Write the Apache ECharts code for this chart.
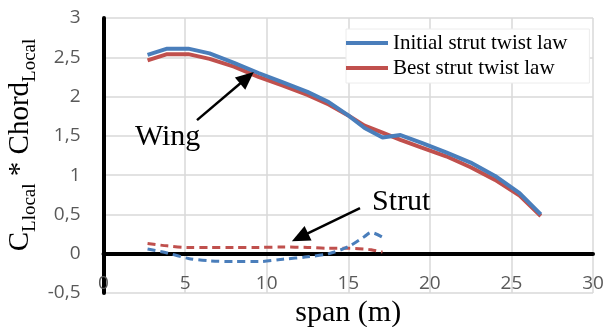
<!DOCTYPE html>
<html>
<head>
<meta charset="utf-8">
<script src="https://cdn.jsdelivr.net/npm/echarts@6/dist/echarts.min.js"></script>
<style>html,body{margin:0;padding:0;background:#fff}#c{width:614px;height:327px}</style>
</head>
<body>
<div id="c"></div>
<script>
// ---- data ----
const wingSpan = [2.7, 3.9, 5.2, 6.5, 8, 9.5, 11, 12.5, 13.8, 15, 16, 17.1, 18.2, 19.5, 21, 22.5, 24, 25.5, 26.8];
const wingInitial = [2.53, 2.61, 2.61, 2.55, 2.43, 2.30, 2.18, 2.06, 1.93, 1.76, 1.60, 1.48, 1.51, 1.41, 1.29, 1.16, 0.99, 0.77, 0.50];
const wingBest    = [2.46, 2.54, 2.54, 2.48, 2.38, 2.25, 2.14, 2.02, 1.90, 1.76, 1.63, 1.54, 1.45, 1.35, 1.24, 1.10, 0.94, 0.74, 0.48];
const strutSpan = [2.7, 3.9, 5.2, 6.5, 8, 9.5, 11, 12.5, 13.8, 15, 16, 16.4, 17.1];
const strutInitial = [0.06, 0.01, -0.06, -0.09, -0.10, -0.10, -0.07, -0.04, 0.00, 0.09, 0.22, 0.27, 0.21];
const strutBest    = [0.13, 0.10, 0.08, 0.08, 0.08, 0.08, 0.085, 0.08, 0.07, 0.07, 0.06, 0.05, 0.02];
const seriesNames = ['Initial strut twist law', 'Best strut twist law'];
const xTicks = { min: 0, max: 30, interval: 5 };
const yTicks = { min: -0.5, max: 3, interval: 0.5 };
const annotations = [
  { text: 'Wing', at: [3.93, 1.49], arrowFrom: [5.73, 1.70], arrowTo: [8.79, 2.24] },
  { text: 'Strut', at: [18.25, 0.66], arrowFrom: [15.72, 0.58], arrowTo: [12.04, 0.21] }
];

const blue = '#4a7ebb';
const red = '#c0504d';
const serif = '"Liberation Serif", "Times New Roman", serif';
const zip = (xs, ys) => xs.map((x, i) => [x, ys[i]]);

const chart = echarts.init(document.getElementById('c'), null, { renderer: 'canvas' });
chart.setOption({
  animation: false,
  grid: { left: 103.5, right: 21, top: 18, bottom: 34, containLabel: false, outerBoundsMode: 'none' },
  xAxis: {
    type: 'value', min: xTicks.min, max: xTicks.max, interval: xTicks.interval,
    axisLine: { show: true, onZero: true, lineStyle: { color: '#000', width: 4 } },
    axisTick: { show: false },
    axisLabel: { margin: -19, color: '#595959', fontSize: 19, fontFamily: '"Open Sans", sans-serif' },
    splitLine: { show: true, lineStyle: { color: '#d9d9d9', width: 1.5 } },
    name: 'span (m)', nameLocation: 'middle', nameGap: -3,
    nameTextStyle: { color: '#000', fontSize: 30, fontFamily: serif }
  },
  yAxis: {
    type: 'value', min: yTicks.min, max: yTicks.max, interval: yTicks.interval,
    axisLine: { show: true, lineStyle: { color: '#000', width: 4 } },
    axisTick: { show: false },
    axisLabel: { margin: 23, color: '#595959', fontSize: 19, fontFamily: '"Open Sans", sans-serif',
      formatter: v => String(v).replace('.', ',') },
    splitLine: { show: true, lineStyle: { color: '#d9d9d9', width: 1.5 } }
  },
  legend: {
    data: seriesNames,
    orient: 'vertical', left: 346, top: 29,
    icon: 'rect', itemWidth: 42, itemHeight: 4, itemGap: 3,
    backgroundColor: '#fff', borderColor: '#ececec', borderWidth: 1,
    padding: [3, 22, 4, 0],
    textStyle: { color: '#000', fontSize: 21, lineHeight: 22, fontFamily: serif }
  },
  graphic: [{
    type: 'text', x: 23, y: 145, rotation: Math.PI / 2,
    style: {
      text: '{m|C}{s|Llocal}{m| * Chord}{s|Local}',
      align: 'center', verticalAlign: 'middle',
      rich: {
        m: { fontSize: 29, lineHeight: 34, fontFamily: serif, fill: '#000', verticalAlign: 'top' },
        s: { fontSize: 19, lineHeight: 19, fontFamily: serif, fill: '#000', verticalAlign: 'bottom' }
      }
    }
  }],
  series: [
    {
      name: seriesNames[1], type: 'line', data: zip(wingSpan, wingBest),
      showSymbol: false, lineStyle: { color: red, width: 4 }, itemStyle: { color: red }, z: 2
    },
    {
      name: seriesNames[0], type: 'line', data: zip(wingSpan, wingInitial),
      showSymbol: false, lineStyle: { color: blue, width: 4 }, itemStyle: { color: blue }, z: 3,
      markLine: {
        silent: true, symbol: ['none', 'triangle'], symbolSize: [16, 18],
        label: { show: false },
        lineStyle: { color: '#000', width: 2.5, type: 'solid' },
        data: annotations.map(a => [{ coord: a.arrowFrom }, { coord: a.arrowTo }])
      },
      markPoint: {
        silent: true, symbol: 'circle', symbolSize: 1,
        itemStyle: { color: 'rgba(0,0,0,0)' },
        label: { show: true, position: 'inside', color: '#000', fontSize: 30, fontFamily: serif,
          formatter: p => p.name },
        data: annotations.map(a => ({ name: a.text, coord: a.at }))
      }
    },
    {
      name: 'Strut best', type: 'line', data: zip(strutSpan, strutBest), smooth: 0.3,
      showSymbol: false, lineStyle: { color: red, width: 3, type: [8, 5] }, itemStyle: { color: red }, z: 2
    },
    {
      name: 'Strut initial', type: 'line', data: zip(strutSpan, strutInitial), smooth: 0.3,
      showSymbol: false, lineStyle: { color: blue, width: 3, type: [8, 5] }, itemStyle: { color: blue }, z: 3
    }
  ]
});
</script>
</body>
</html>
